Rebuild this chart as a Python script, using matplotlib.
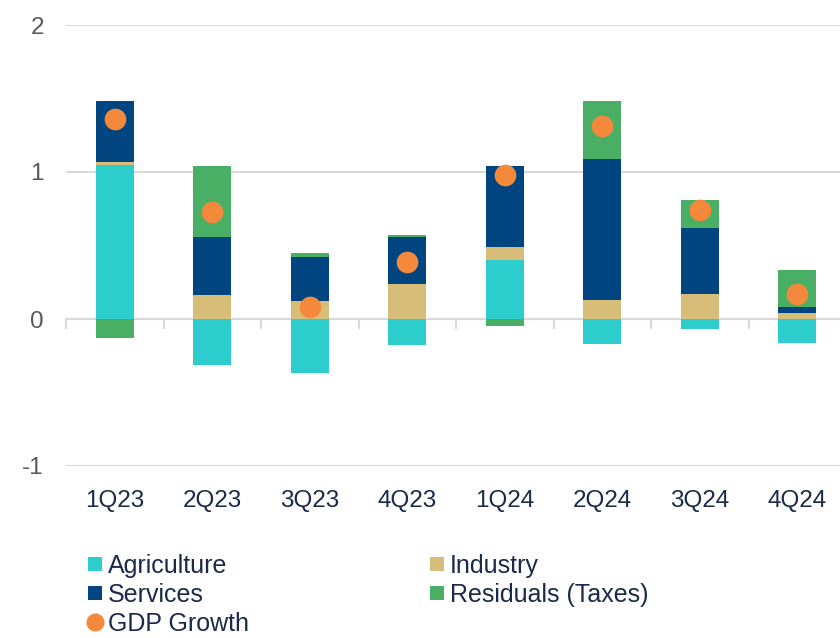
"""Quarterly GDP growth contributions by sector, stacked bars with GDP dots."""

import matplotlib
matplotlib.use("Agg")
import matplotlib.pyplot as plt
from matplotlib.lines import Line2D
import numpy as np

# ── Data ───────────────────────────────────────────────────────────────────────
categories = ["1Q23", "2Q23", "3Q23", "4Q23", "1Q24", "2Q24", "3Q24", "4Q24"]
agriculture = [1.05, -0.31, -0.37, -0.18, 0.40, -0.17, -0.07, -0.16]
industry = [0.02, 0.16, 0.12, 0.24, 0.09, 0.13, 0.17, 0.04]
services = [0.41, 0.40, 0.30, 0.32, 0.55, 0.96, 0.45, 0.04]
residuals = [-0.13, 0.48, 0.03, 0.01, -0.05, 0.39, 0.19, 0.25]
gdp_growth = [1.36, 0.73, 0.08, 0.39, 0.98, 1.31, 0.74, 0.17]

series = [
    ("Agriculture", agriculture, "#2ECDCD"),
    ("Industry", industry, "#D7BD77"),
    ("Services", services, "#004580"),
    ("Residuals (Taxes)", residuals, "#49AF65"),
]
GDP_COLOUR = "#F5893B"
TEXT_DARK = "#1B2A4A"
GRID = "#D9D9D9"

plt.rcParams["font.family"] = ["Liberation Sans", "DejaVu Sans"]

fig = plt.figure(figsize=(8.4, 6.38), dpi=100)
ax = fig.add_axes([66 / 840, 172 / 638, 780 / 840, 441 / 638])

x = np.arange(len(categories))
pos_base = np.zeros(len(x))
neg_base = np.zeros(len(x))
for name, vals, colour in series:
    v = np.asarray(vals, dtype=float)
    bottom = np.where(v >= 0, pos_base, neg_base)
    ax.bar(x, v, bottom=bottom, width=0.39, color=colour, linewidth=0, zorder=3)
    pos_base += np.clip(v, 0, None)
    neg_base += np.clip(v, None, 0)

ax.plot(x, gdp_growth, linestyle="none", marker="o", markersize=15.6,
        color=GDP_COLOUR, markeredgewidth=0, zorder=4)

ax.set_xlim(-0.5, len(x) - 0.5)
ax.set_ylim(-1, 2)
ax.set_yticks([-1, 0, 1, 2])
ax.set_yticklabels(["-1", "0", "1", "2"])
ax.grid(axis="y", color=GRID, linewidth=1.5, zorder=0)
for side in ["top", "right", "left", "bottom"]:
    ax.spines[side].set_visible(False)
ax.tick_params(axis="y", length=0, pad=16, labelsize=17.5, labelcolor="#595959")
ax.set_xticks(x)
ax.set_xticklabels(categories)
ax.tick_params(axis="x", length=0, pad=17, labelsize=17.5, labelcolor=TEXT_DARK)

# zero line with category separator ticks
sec = ax.secondary_xaxis(1 / 3)
sec.set_xticks(np.arange(-0.5, len(x) + 0.5, 1.0))
sec.set_xticklabels([])
sec.tick_params(axis="x", length=7.2, width=1.5, color=GRID, direction="out")
sec.spines["bottom"].set_color(GRID)
sec.spines["bottom"].set_linewidth(1.5)

# ── Legend ─────────────────────────────────────────────────────────────────────
def sq(colour):
    return Line2D([], [], linestyle="none", marker="s", markersize=10,
                  color=colour, markeredgewidth=0)

handles = [
    sq(series[0][2]), sq(series[2][2]),
    Line2D([], [], linestyle="none", marker="o", markersize=13,
           color=GDP_COLOUR, markeredgewidth=0),
    sq(series[1][2]), sq(series[3][2]),
]
labels = ["Agriculture", "Services", "GDP Growth", "Industry", "Residuals (Taxes)"]
fig.legend(handles, labels, ncol=2, loc="upper left",
           bbox_to_anchor=(87.5 / 840, 84 / 638), frameon=False,
           fontsize=18, labelcolor=TEXT_DARK, handlelength=0.6,
           handletextpad=0.22, columnspacing=7.2, labelspacing=0.2,
           borderpad=0, borderaxespad=0)

fig.savefig("out.png", dpi=100, facecolor="white")
plt.close(fig)
